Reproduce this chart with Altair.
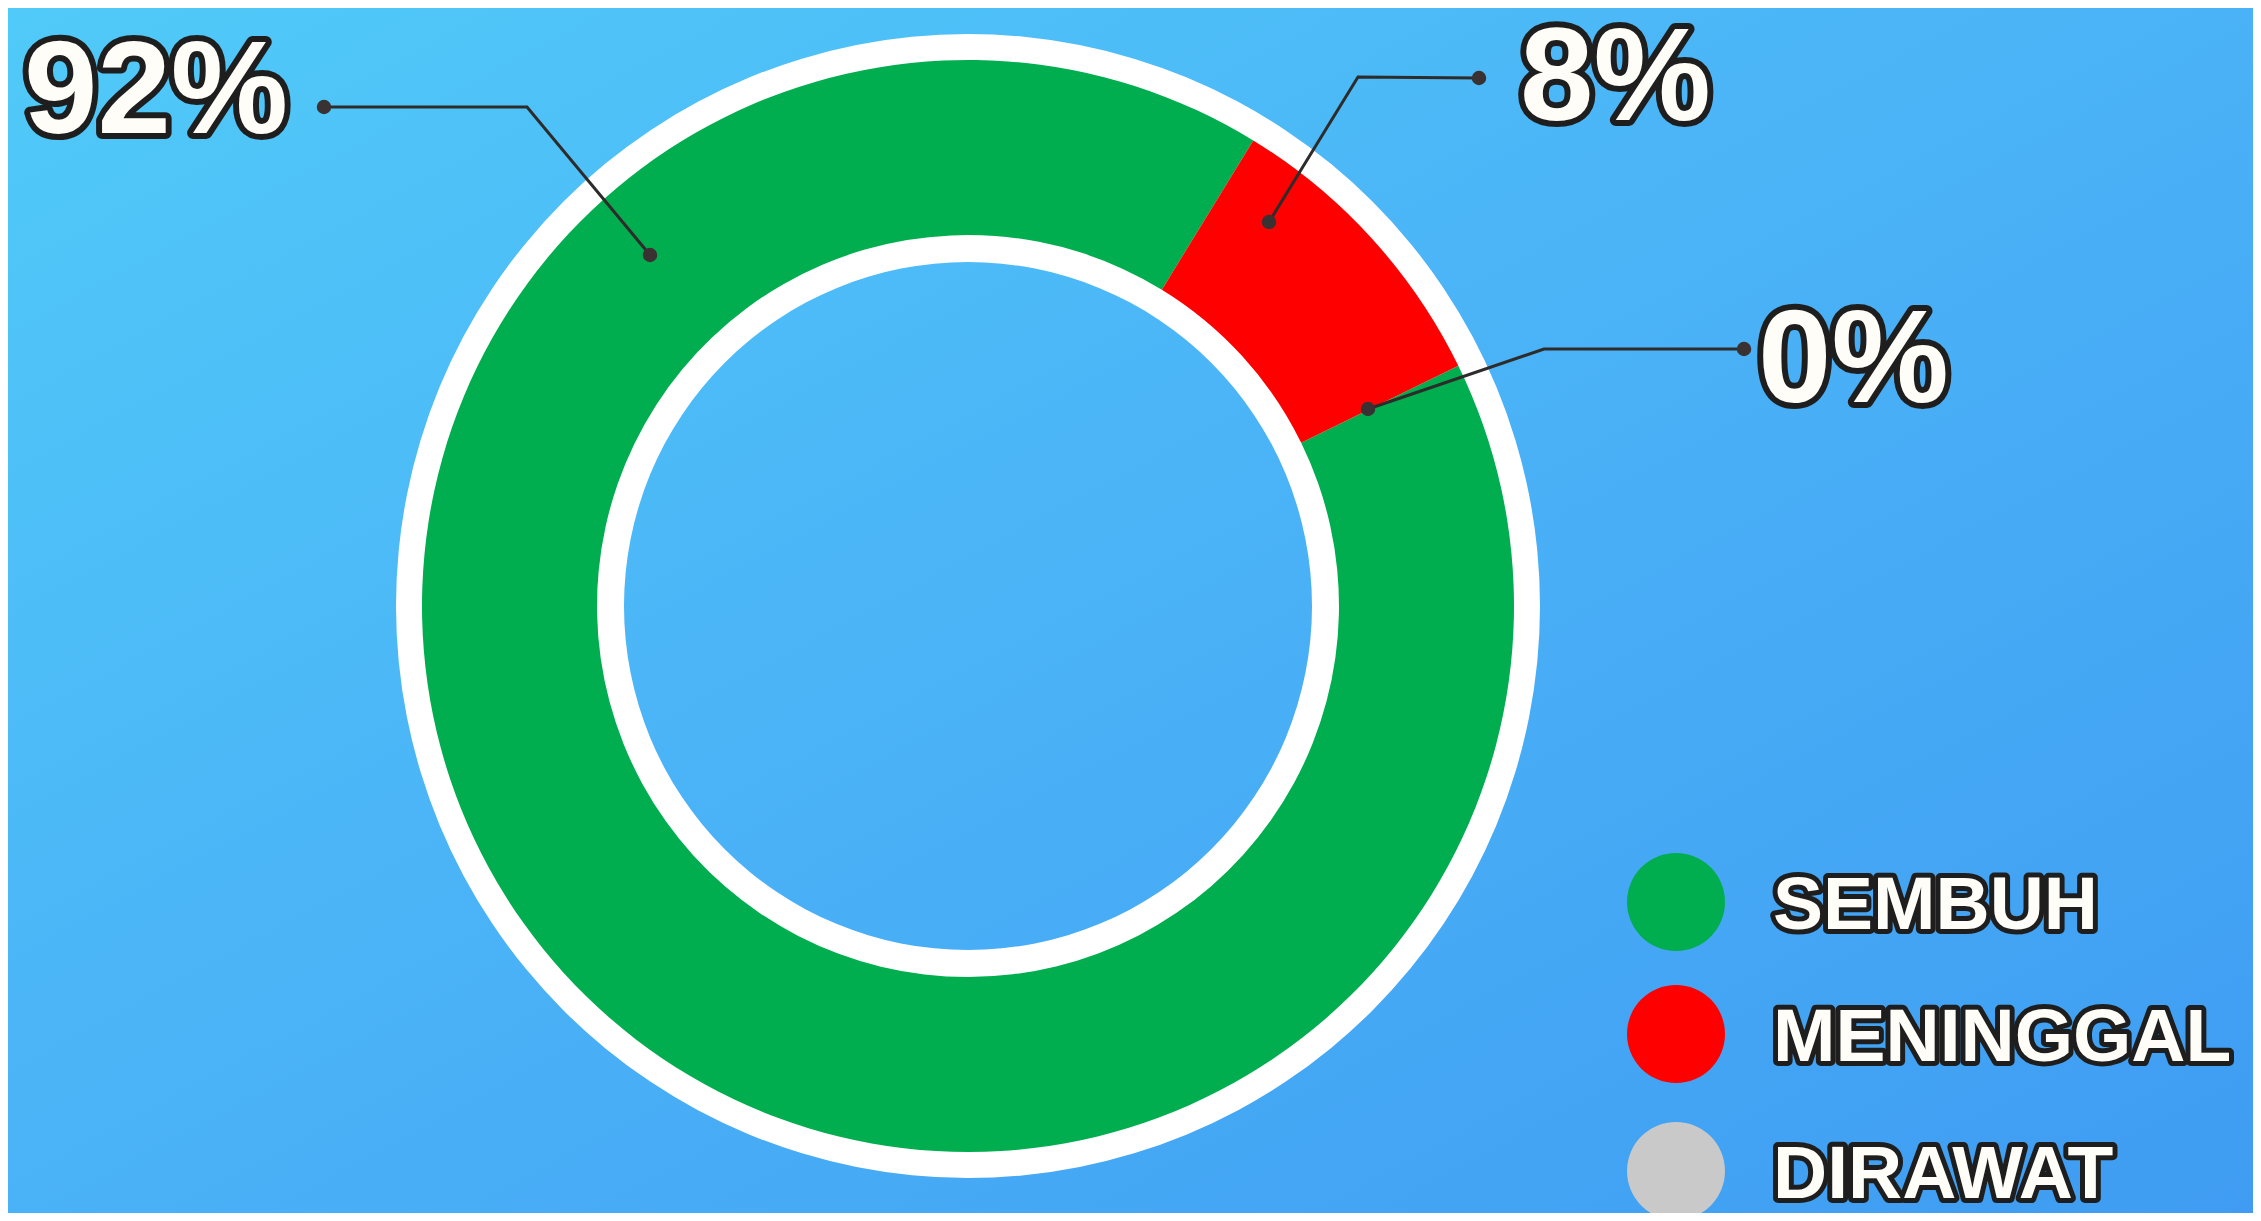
import math
import pandas as pd
import altair as alt

# ---------------- data ----------------
status = ["SEMBUH", "MENINGGAL", "DIRAWAT"]
share = [91.0, 9.0, 0.0]                 # ring share as drawn
colors = ["#00AE4F", "#FF0000", "#C9C9C9"]
pct_text = ["92%", "8%", "0%"]

# label anchor positions (chart units = px of the plot area)
lab_x = [16, 1512, 1750]
lab_y = [125, 112, 394]

# leader lines: label dot -> elbow -> dot on the ring
lead_x = [[316, 519, 642], [1471, 1350, 1261], [1736, 1536, 1360]]
lead_y = [[99, 99, 247], [70, 69, 214], [341, 341, 401]]

leg_y = [894, 1026, 1163]
leg_circle_x = 1668
leg_text_x = 1765

# ---------------- layout ----------------
W, H = 2245, 1205
cx, cy = 960, 598
r_white_out, r_out, r_in, r_white_in = 572, 546, 371, 344
start = math.radians(63.9)

FONT = "Liberation Sans"
OUTLINE = "#1E1E1E"
LINE = "#2E2B2B"

xs = alt.Scale(domain=[0, W], nice=False, zero=False)
ys = alt.Scale(domain=[0, H], nice=False, zero=False, reverse=True)

one = pd.DataFrame({"k": [0]})

bg = alt.Chart(one).mark_rect(
    fill=alt.Gradient(
        gradient="linear",
        stops=[
            alt.GradientStop(color="#50CAF8", offset=0),
            alt.GradientStop(color="#4BB4F7", offset=0.45),
            alt.GradientStop(color="#3F9CF2", offset=1),
        ],
        x1=0, x2=1, y1=0, y2=1,
    ),
    strokeWidth=0,
).encode(x=alt.value(0), x2=alt.value(W), y=alt.value(0), y2=alt.value(H))

ring = alt.Chart(one).mark_arc(
    radius=r_white_out, radius2=r_white_in, color="#FFFFFF"
).encode(
    theta=alt.value(0), theta2=alt.value(2 * math.pi),
    x=alt.value(cx), y=alt.value(cy),
)

arcs_df = pd.DataFrame({"status": status, "share": share, "ord": [0, 1, 2]})
arcs = alt.Chart(arcs_df).mark_arc(radius=r_out, radius2=r_in, strokeWidth=0).encode(
    theta=alt.Theta("share:Q", stack=True,
                    scale=alt.Scale(range=[start, start + 2 * math.pi])),
    color=alt.Color("status:N", scale=alt.Scale(domain=status, range=colors), legend=None),
    order=alt.Order("ord:Q"),
    x=alt.value(cx), y=alt.value(cy),
)

rows = []
for i, (lx, ly) in enumerate(zip(lead_x, lead_y)):
    for j, (px, py) in enumerate(zip(lx, ly)):
        rows.append({"lid": i, "idx": j, "x": px, "y": py})
lead_df = pd.DataFrame(rows)

lines = alt.Chart(lead_df).mark_line(color=LINE, strokeWidth=3).encode(
    x=alt.X("x:Q", scale=xs, axis=None),
    y=alt.Y("y:Q", scale=ys, axis=None),
    detail="lid:N",
    order="idx:Q",
)
dots = alt.Chart(lead_df).transform_filter("datum.idx != 1").mark_circle(
    color="#3A3232", opacity=1, size=210
).encode(x=alt.X("x:Q", scale=xs), y=alt.Y("y:Q", scale=ys))

lab_df = pd.DataFrame({"t": pct_text, "x": lab_x, "y": lab_y})
lab_out = alt.Chart(lab_df).mark_text(
    font=FONT, fontWeight="bold", fontSize=132, align="left", baseline="alphabetic",
    fill=OUTLINE, stroke=OUTLINE, strokeWidth=12, strokeJoin="round",
).encode(x=alt.X("x:Q", scale=xs), y=alt.Y("y:Q", scale=ys), text="t:N")
lab_in = alt.Chart(lab_df).mark_text(
    font=FONT, fontWeight="bold", fontSize=132, align="left", baseline="alphabetic",
    fill="#FFFDF7",
).encode(x=alt.X("x:Q", scale=xs), y=alt.Y("y:Q", scale=ys), text="t:N")

leg_df = pd.DataFrame({"status": status, "y": leg_y,
                       "ty": [v + 27 for v in leg_y]})
leg_dots = alt.Chart(leg_df).mark_circle(opacity=1, size=9600).encode(
    x=alt.value(leg_circle_x),
    y=alt.Y("y:Q", scale=ys),
    color=alt.Color("status:N", scale=alt.Scale(domain=status, range=colors), legend=None),
)
leg_out = alt.Chart(leg_df).mark_text(
    font=FONT, fontWeight="bold", fontSize=75, align="left", baseline="alphabetic",
    fill=OUTLINE, stroke=OUTLINE, strokeWidth=10, strokeJoin="round",
).encode(x=alt.value(leg_text_x), y=alt.Y("ty:Q", scale=ys), text="status:N")
leg_in = alt.Chart(leg_df).mark_text(
    font=FONT, fontWeight="bold", fontSize=75, align="left", baseline="alphabetic",
    fill="#FFFDF7",
).encode(x=alt.value(leg_text_x), y=alt.Y("ty:Q", scale=ys), text="status:N")

chart = alt.layer(
    bg, ring, arcs, lines, dots, lab_out, lab_in, leg_dots, leg_out, leg_in
).properties(
    width=W, height=H, padding=0, autosize=alt.AutoSizeParams(type="none"),
    background="#4BB4F7",
).configure_view(strokeWidth=0)

chart.save("out.html", embed_options={"renderer": "svg", "actions": False})
